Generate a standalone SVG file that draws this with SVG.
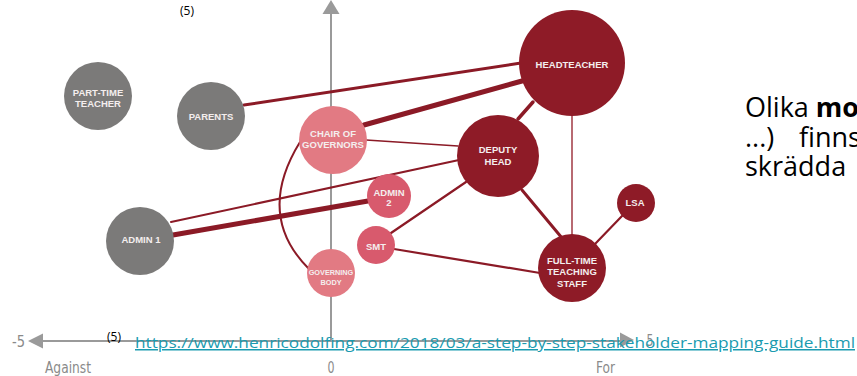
<svg xmlns="http://www.w3.org/2000/svg" width="857" height="376" viewBox="0 0 857 376">
<style>
.axis{stroke:#9a9a9a;stroke-width:2;fill:none}
.ah{fill:#9a9a9a}
.ax{font-family:"Liberation Sans Narrow","DejaVu Sans Condensed","Liberation Sans",sans-serif;font-size:16px;fill:#8a8a8a;text-anchor:middle}
.c{stroke:#8b1a26;fill:none;stroke-linecap:round}
.grey{fill:#7b7a79}
.dark{fill:#8e1b27}
.pink{fill:#e27a83}
.rose{fill:#d85a6d}
.lbl{font-family:"Liberation Sans",Arial,sans-serif;font-weight:bold;font-size:9.5px;fill:#f4eeee;text-anchor:middle}
.note{font-family:"Open Sans","Liberation Sans",sans-serif;font-size:12px;fill:#000}
.body{font-family:"Open Sans","Liberation Sans",sans-serif;font-size:27px;fill:#000}
.link{font-family:"Open Sans","Liberation Sans",sans-serif;font-size:15px;fill:#1a9bb0;text-decoration:underline}
</style>
<rect width="857" height="376" fill="#ffffff"/>
<g id="axes">
<line class="axis" x1="331" y1="12" x2="331" y2="341"/>
<polygon class="ah" points="331,0 322.5,14 339.5,14"/>
<line class="axis" x1="40" y1="341" x2="622" y2="341"/>
<polygon class="ah" points="28,341 43,333.5 43,348.5"/>
<polygon class="ah" points="634,340 620,332.5 620,347.5"/>
<text class="ax" x="18.5" y="347" textLength="13" lengthAdjust="spacingAndGlyphs">-5</text>
<text class="ax" x="650" y="346" textLength="7" lengthAdjust="spacingAndGlyphs">5</text>
<text class="ax" x="68" y="373" textLength="46" lengthAdjust="spacingAndGlyphs">Against</text>
<text class="ax" x="331" y="373" textLength="7" lengthAdjust="spacingAndGlyphs">0</text>
<text class="ax" x="605.5" y="373" textLength="19" lengthAdjust="spacingAndGlyphs">For</text>
</g>
<g id="connectors">
<line class="c" x1="244" y1="105" x2="521" y2="63" stroke-width="3"/>
<line class="c" x1="364" y1="125" x2="522" y2="81" stroke-width="5"/>
<line class="c" x1="366" y1="140" x2="458" y2="146" stroke-width="1.6"/>
<line class="c" x1="171" y1="222" x2="459" y2="160" stroke-width="2"/>
<line class="c" x1="173" y1="235" x2="368" y2="201" stroke-width="5"/>
<path class="c" d="M300,142 Q255,215 309,269" stroke-width="2"/>
<line class="c" x1="533" y1="102" x2="518" y2="119" stroke-width="3.5"/>
<line x1="572" y1="115" x2="572" y2="235" stroke="#b86a72" stroke-width="2"/>
<line class="c" x1="522" y1="190" x2="562" y2="238" stroke-width="3"/>
<line class="c" x1="466" y1="182" x2="391" y2="233" stroke-width="2.2"/>
<line class="c" x1="394" y1="249" x2="540" y2="273" stroke-width="2.2"/>
<line class="c" x1="622" y1="216" x2="595" y2="244" stroke-width="2.2"/>
</g>
<g id="part-time-teacher"><circle class="grey" cx="98" cy="96" r="34"/><text class="lbl" x="98" y="96">PART-TIME</text><text class="lbl" x="98" y="107">TEACHER</text></g>
<g id="parents"><circle class="grey" cx="211" cy="116" r="34"/><text class="lbl" x="211" y="120">PARENTS</text></g>
<g id="chair-of-governors"><circle class="pink" cx="333" cy="140" r="34"/><text class="lbl" x="333" y="137">CHAIR OF</text><text class="lbl" x="333" y="148">GOVERNORS</text></g>
<g id="headteacher"><circle class="dark" cx="572" cy="63" r="53"/><text class="lbl" x="572" y="68">HEADTEACHER</text></g>
<g id="deputy-head"><circle class="dark" cx="498" cy="156" r="41"/><text class="lbl" x="498" y="153">DEPUTY</text><text class="lbl" x="498" y="165">HEAD</text></g>
<g id="admin-2"><circle class="rose" cx="389" cy="196" r="22"/><text class="lbl" x="389" y="195.5">ADMIN</text><text class="lbl" x="389" y="205.5">2</text></g>
<g id="smt"><circle class="rose" cx="376" cy="245" r="19"/><text class="lbl" x="376" y="250">SMT</text></g>
<g id="governing-body"><circle class="pink" cx="331" cy="273" r="24"/><text class="lbl" x="331" y="275" style="font-size:7.3px">GOVERNING</text><text class="lbl" x="331" y="285" style="font-size:7.3px">BODY</text></g>
<g id="admin-1"><circle class="grey" cx="140" cy="241" r="34"/><text class="lbl" x="141" y="243">ADMIN 1</text></g>
<g id="lsa"><circle class="dark" cx="636" cy="203" r="19"/><text class="lbl" x="635" y="206">LSA</text></g>
<g id="full-time-teaching-staff"><circle class="dark" cx="572" cy="268" r="34"/><text class="lbl" x="572" y="263.5">FULL-TIME</text><text class="lbl" x="572" y="275">TEACHING</text><text class="lbl" x="572" y="286.5">STAFF</text></g>
<g id="texts">
<text class="note" x="180" y="15">(5)</text>
<text class="note" x="107" y="341">(5)</text>
<text class="link" x="135" y="348" textLength="720" lengthAdjust="spacingAndGlyphs">https://www.henricodolfing.com/2018/03/a-step-by-step-stakeholder-mapping-guide.html</text>
<text class="body" x="745" y="117">Olika <tspan font-weight="bold">mo</tspan></text>
<text class="body" x="745" y="147">...)<tspan x="799">finns</tspan></text>
<text class="body" x="745" y="176">skrädda</text>
</g>
</svg>
